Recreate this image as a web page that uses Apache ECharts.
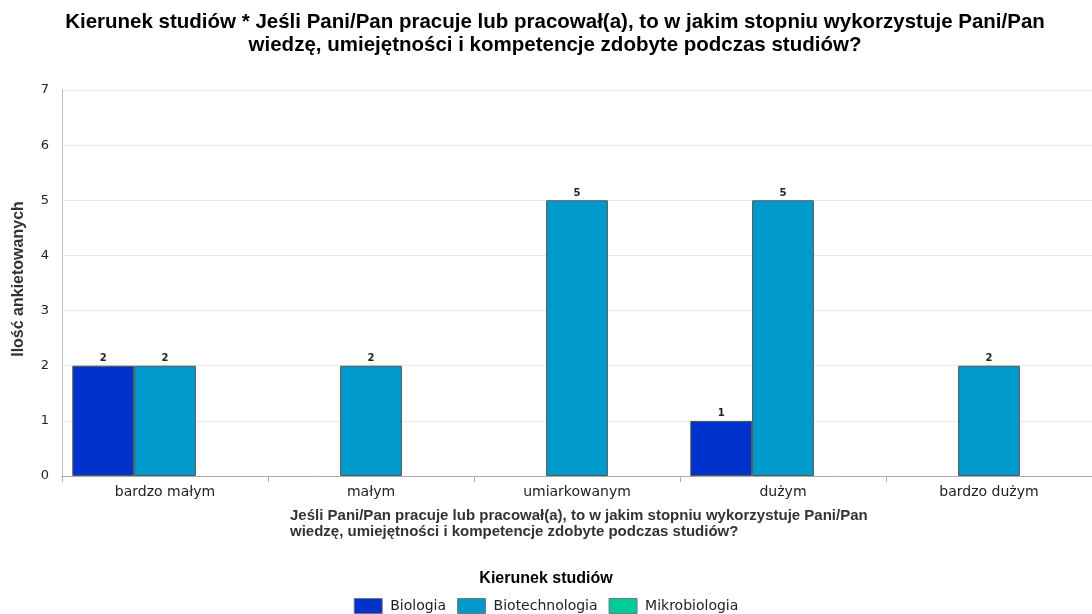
<!DOCTYPE html>
<html>
<head>
<meta charset="utf-8">
<script src="https://cdn.jsdelivr.net/npm/echarts@6/dist/echarts.min.js"></script>
<style>
  html, body { margin: 0; padding: 0; background: #fff; }
  #chart { width: 1092px; height: 614px; }
</style>
</head>
<body>
<div id="chart"></div>
<script>
// Answer categories (x axis)
const categories = ['bardzo małym', 'małym', 'umiarkowanym', 'dużym', 'bardzo dużym'];
// Field of study series
const seriesNames = ['Biologia', 'Biotechnologia', 'Mikrobiologia'];
const biologia = [2, 0, 0, 1, 0];
const biotechnologia = [2, 2, 5, 5, 2];
const mikrobiologia = [0, 0, 0, 0, 0];
const yTicks = [0, 1, 2, 3, 4, 5, 6, 7];

const colors = ['#0033CC', '#0099CC', '#00CC99'];
const values = [biologia, biotechnologia, mikrobiologia];

const chart = echarts.init(document.getElementById('chart'), null, { renderer: 'canvas' });

const series = seriesNames.map((name, i) => ({
  name: name,
  type: 'bar',
  barGap: '0%',
  barCategoryGap: '10%',
  // empty counts are left out so no flat bar is drawn
  data: values[i].map(v => (v === 0 ? '-' : v)),
  itemStyle: { color: colors[i], borderColor: '#555555', borderWidth: 1 },
  label: {
    show: true,
    position: 'top',
    distance: 2,
    color: '#222',
    fontFamily: 'DejaVu Sans',
    fontSize: 10,
    fontWeight: 'bold'
  },
  emphasis: { disabled: true }
}));

chart.setOption({
  animation: false,
  backgroundColor: '#ffffff',
  color: colors,
  title: [
    {
      text: 'Kierunek studiów * Jeśli Pani/Pan pracuje lub pracował(a), to w jakim stopniu wykorzystuje Pani/Pan\nwiedzę, umiejętności i kompetencje zdobyte podczas studiów?',
      left: 555,
      top: 11,
      textAlign: 'center',
      padding: 0,
      textStyle: {
        fontFamily: 'Liberation Sans',
        fontSize: 20.5,
        fontWeight: 'bold',
        color: '#000',
        lineHeight: 23,
        align: 'center'
      }
    },
    {
      text: 'Jeśli Pani/Pan pracuje lub pracował(a), to w jakim stopniu wykorzystuje Pani/Pan\nwiedzę, umiejętności i kompetencje zdobyte podczas studiów?',
      left: 290,
      top: 508,
      padding: 0,
      textStyle: {
        fontFamily: 'Liberation Sans',
        fontSize: 15,
        fontWeight: 'bold',
        color: '#333',
        lineHeight: 16
      }
    },
    {
      text: 'Kierunek studiów',
      left: 'center',
      top: 571,
      padding: 0,
      textStyle: {
        fontFamily: 'Liberation Sans',
        fontSize: 16,
        fontWeight: 'bold',
        color: '#000'
      }
    }
  ],
  legend: {
    data: seriesNames,
    left: 'center',
    top: 598,
    padding: 0,
    itemWidth: 28,
    itemHeight: 15,
    itemGap: 11,
    icon: 'rect',
    itemStyle: { borderColor: '#777', borderWidth: 1 },
    textStyle: { fontFamily: 'DejaVu Sans', fontSize: 14, color: '#222', padding: [0, 0, 0, 3] },
    selectedMode: false
  },
  grid: { left: 62, right: 0, top: 90, bottom: 138, containLabel: false },
  xAxis: {
    type: 'category',
    data: categories,
    axisLine: { show: true, lineStyle: { color: '#aaaaaa', width: 1 } },
    axisTick: { show: true, alignWithLabel: false, length: 6, lineStyle: { color: '#aaaaaa' } },
    axisLabel: {
      fontFamily: 'DejaVu Sans',
      fontSize: 14,
      color: '#222',
      margin: 9
    },
    splitLine: { show: false }
  },
  yAxis: {
    type: 'value',
    min: yTicks[0],
    max: yTicks[yTicks.length - 1],
    interval: 1,
    name: 'Ilość ankietowanych',
    nameLocation: 'middle',
    nameGap: 35,
    nameTextStyle: {
      fontFamily: 'Liberation Sans',
      fontSize: 16,
      fontWeight: 'bold',
      color: '#333',
      padding: [0, 0, 0, 8]
    },
    axisLine: { show: true, lineStyle: { color: '#bbbbbb', width: 1 } },
    axisTick: { show: false },
    axisLabel: {
      fontFamily: 'DejaVu Sans',
      fontSize: 13,
      color: '#222',
      margin: 13
    },
    splitLine: { show: true, lineStyle: { color: '#e8e8e8', width: 1 } }
  },
  series: series
});
</script>
</body>
</html>
